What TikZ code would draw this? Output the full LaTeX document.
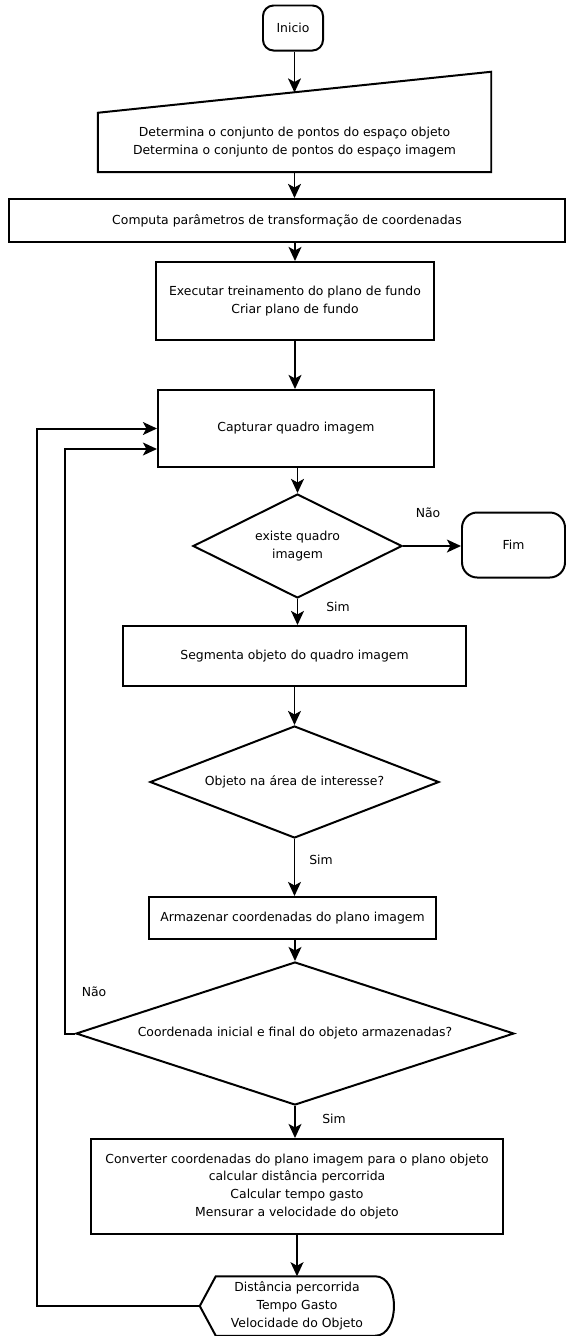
\documentclass[tikz,border=0pt]{standalone}
\usepackage{fontspec}
\setmainfont{DejaVu Sans}
\usetikzlibrary{arrows.meta, shapes.geometric, positioning, calc}
\tikzset{
	block/.style={rectangle, draw, line width=1.7pt, align=center, inner sep=2pt},
	decision/.style={diamond, draw, line width=1.7pt, align=center, inner sep=0pt},
	terminal/.style={rectangle, draw, line width=1.7pt, rounded corners=9pt, align=center},
	tag/.style={inner sep=1pt},
	line/.style={draw, line width=1.7pt, -{Stealth[length=12pt, width=11pt, inset=3pt]}}
}

\begin{document}
\begin{tikzpicture}[x=0.03cm, y=-0.03cm, font=\fontsize{10.6}{15.3}\selectfont]
		\useasboundingbox (0,0) rectangle (566,1336);
		
		% Start
		\node[terminal, minimum width=1.8cm, minimum height=1.35cm] (ini) at (293,28) {Inicio};
		
		% Manual input (slanted top)
		\node[minimum width=11.79cm, minimum height=1.77cm, align=center] (mi) at (294.5,142.5) {Determina o conjunto de pontos do espaço objeto\\Determina o conjunto de pontos do espaço imagem};
		\draw[line width=1.7pt] (mi.north west) -- ([yshift=1.23cm]mi.north east) -- (mi.south east) -- (mi.south west) -- cycle;
		\coordinate (miTop) at (294.5,92.5);
		
		% Process blocks
		\node[block, minimum width=16.68cm, minimum height=1.29cm] (comp) at (287,220.5) {Computa parâmetros de transformação de coordenadas};
		\node[block, minimum width=8.34cm, minimum height=2.34cm] (exe) at (295,301) {Executar treinamento do plano de fundo\\Criar plano de fundo};
		\node[block, minimum width=8.28cm, minimum height=2.31cm] (cap) at (296,428.5) {Capturar quadro imagem};
		
		% First decision and end
		\node[decision, aspect=2, minimum width=6.27cm, minimum height=3.12cm] (d1) at (297.5,546) {existe quadro\\imagem};
		\node[terminal, rounded corners=13pt, minimum width=3.09cm, minimum height=1.95cm] (fim) at (513.5,545) {Fim};
		
		\node[block, minimum width=10.29cm, minimum height=1.8cm] (seg) at (294.5,656) {Segmenta objeto do quadro imagem};
		\node[decision, aspect=2.6, minimum width=8.67cm, minimum height=3.36cm] (d2) at (294.5,782) {Objeto na área de interesse?};
		\node[block, minimum width=8.61cm, minimum height=1.26cm] (arm) at (292.5,918) {Armazenar coordenadas do plano imagem};
		\node[decision, aspect=3, minimum width=13.14cm, minimum height=4.29cm] (d3) at (295,1033.5) {Coordenada inicial e final do objeto armazenadas?};
		\node[block, minimum width=12.36cm, minimum height=2.85cm] (conv) at (297,1186.5) {Converter coordenadas do plano imagem para o plano objeto\\calcular distância percorrida\\Calcular tempo gasto\\Mensurar a velocidade do objeto};
		
		% Display (output)
		\node[minimum width=5.82cm, minimum height=1.77cm, align=center] (disp) at (297,1306) {Distância percorrida\\Tempo Gasto\\Velocidade do Objeto};
		\draw[line width=1.7pt] (disp.west) -- ([xshift=0.48cm]disp.north west) -- ([xshift=-0.57cm]disp.north east)
			.. controls ([xshift=0.18cm]disp.north east) and ([xshift=0.18cm]disp.south east) .. ([xshift=-0.57cm]disp.south east)
			-- ([xshift=0.48cm]disp.south west) -- cycle;
		
		% Branch labels
		\node[tag] (nao1) at (428,513) {Não};
		\node[tag] (sim1) at (338,607) {Sim};
		\node[tag] (sim2) at (321,860) {Sim};
		\node[tag] (nao2) at (94,992) {Não};
		\node[tag] (sim3) at (334,1119) {Sim};
		
		% Main flow
		\draw[line] (ini.south -| miTop) -- (miTop);
		\draw[line] (mi.south -| miTop) -- (comp.north -| miTop);
		\draw[line] (comp.south -| exe.north) -- (exe.north);
		\draw[line] (exe.south) -- (exe.south |- cap.north);
		\draw[line] (cap.south -| d1.north) -- (d1.north);
		\draw[line] (d1.east) -- (d1.east -| fim.west);
		\draw[line] (d1.south) -- (d1.south |- seg.north);
		\draw[line] (seg.south -| d2.north) -- (d2.north);
		\draw[line] (d2.south) -- (d2.south |- arm.north);
		\draw[line] (arm.south -| d3.north) -- (d3.north);
		\draw[line] (d3.south) -- (d3.south |- conv.north);
		\draw[line] (conv.south -| disp.north) -- (disp.north);
		
		% Loops back to capture
		\coordinate (loopA) at (65,449);
		\coordinate (loopB) at (37,428.5);
		\draw[line] (d3.west) -| (loopA) -- (loopA -| cap.west);
		\draw[line] (disp.west) -| (loopB) -- (cap.west);
		
	\end{tikzpicture}
\end{document}
